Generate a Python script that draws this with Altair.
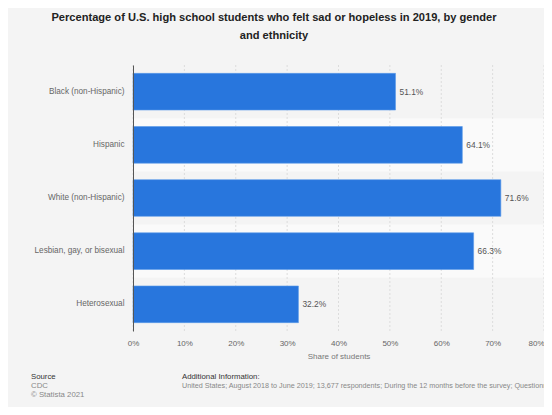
import altair as alt
import pandas as pd

categories = ["Black (non-Hispanic)", "Hispanic", "White (non-Hispanic)",
              "Lesbian, gay, or bisexual", "Heterosexual"]
values = [51.1, 64.1, 71.6, 66.3, 32.2]
stripe_rows = ["Hispanic", "Lesbian, gay, or bisexual"]
x_ticks = [0, 10, 20, 30, 40, 50, 60, 70, 80]

title_lines = ["Percentage of U.S. high school students who felt sad or hopeless in 2019, by gender",
               "and ethnicity"]
source_lines = ["CDC", "© Statista 2021"]
info_line = ("United States; August 2018 to June 2019; 13,677 respondents; During the 12 months "
             "before the survey; Questionnaire")

FONT = "Liberation Sans"
W, H = 411, 266

df = pd.DataFrame({"cat": categories, "val": values})
stripes = pd.DataFrame({"cat": stripe_rows, "x0": [0] * len(stripe_rows), "x1": [80] * len(stripe_rows)})
ticks_df = pd.DataFrame({"t": x_ticks})

yscale = alt.Scale(paddingInner=0.31, paddingOuter=0.157)
y_enc = alt.Y("cat:N", sort=categories, scale=yscale,
              axis=alt.Axis(title=None, ticks=False, grid=False, domainColor="#555555",
                            domainWidth=1, labelPadding=9, labelFont=FONT, labelFontSize=8.2,
                            labelColor="#666666", zindex=1))
x_scale = alt.Scale(domain=[0, 80], nice=False)
x_axis = alt.Axis(values=x_ticks, labelExpr="datum.value + '%'", title="Share of students",
                  grid=False, domain=False, ticks=False, labelPadding=8, labelFont=FONT,
                  labelFontSize=8, labelColor="#666666", titleFont=FONT, titleFontSize=8,
                  titleColor="#777777", titleFontWeight="normal", titlePadding=5,
                  labelAlign=alt.expr("datum.value == 80 ? 'right' : 'center'"))

stripe_layer = alt.Chart(stripes).mark_bar(color="#fafafa", height={"band": 1 / 0.69}).encode(
    y=alt.Y("cat:N", sort=categories, scale=yscale),
    x=alt.X("x0:Q", scale=x_scale, axis=x_axis),
    x2="x1:Q",
)

grid_layer = alt.Chart(ticks_df).mark_rule(color="#dcdcdc", strokeWidth=1, strokeDash=[2, 2]).encode(
    x=alt.X("t:Q", scale=x_scale)
)

bars = alt.Chart(df).mark_bar(color="#2876dd", stroke="#5b9bea", strokeWidth=0.6).encode(
    y=y_enc,
    x=alt.X("val:Q", scale=x_scale),
)

labels = alt.Chart(df).transform_calculate(
    lab="format(datum.val, '.1f') + '%'"
).mark_text(align="left", baseline="middle", dx=4, font=FONT, fontSize=8.4, color="#555555").encode(
    y=alt.Y("cat:N", sort=categories, scale=yscale),
    x=alt.X("val:Q", scale=x_scale),
    text="lab:N",
)

def txt(text, x, y, size, color, weight="normal", align="left"):
    return alt.Chart(pd.DataFrame({"t": [text]})).mark_text(
        align=align, baseline="middle", font=FONT, fontSize=size, color=color, fontWeight=weight
    ).encode(text="t:N", x=alt.value(x), y=alt.value(y))

ox, oy = 133, 65
texts = [
    txt(title_lines[0], 274 - ox, 18 - oy, 11.1, "#222222", "bold", "center"),
    txt(title_lines[1], 274 - ox, 36 - oy, 11.1, "#222222", "bold", "center"),
    txt("Source", 31 - ox, 377 - oy, 7.8, "#333333"),
    txt(source_lines[0], 31 - ox, 386 - oy, 7.8, "#888888"),
    txt(source_lines[1], 31 - ox, 395 - oy, 7.8, "#888888"),
    txt("Additional Information:", 182 - ox, 377 - oy, 7.8, "#333333"),
    txt(info_line, 182 - ox, 386 - oy, 7.2, "#888888"),
]

chart = alt.layer(stripe_layer, grid_layer, bars, labels, *texts).properties(
    width=W, height=H,
    autosize=alt.AutoSizeParams(type="none"),
    padding={"left": 125, "top": 57, "right": 0, "bottom": 76},
    background="#f4f4f4",
).configure_view(stroke=None)

chart.save("out.html", embed_options={"renderer": "svg", "actions": False})
